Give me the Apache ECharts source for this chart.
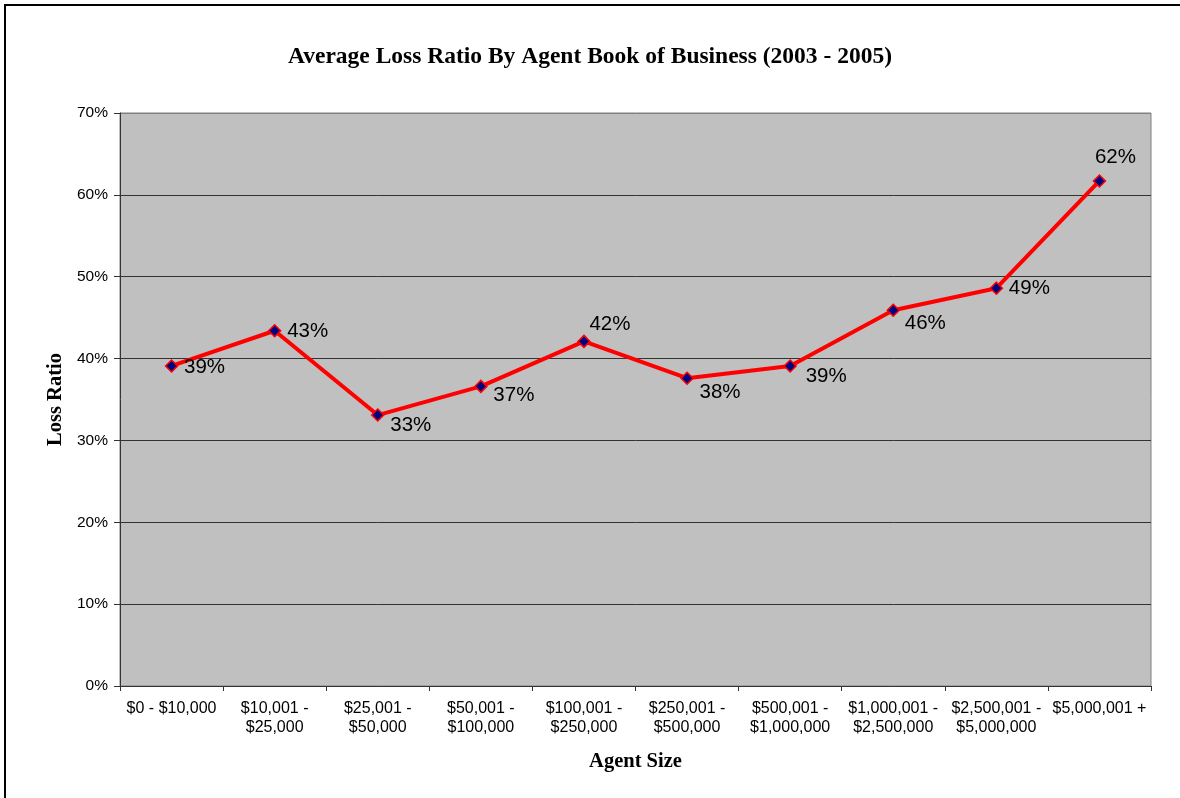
<!DOCTYPE html>
<html>
<head>
<meta charset="utf-8">
<script src="https://cdn.jsdelivr.net/npm/echarts@6/dist/echarts.min.js"></script>
<style>
html,body{margin:0;padding:0;background:#fff;}
#wrap{position:relative;width:1180px;height:798px;}
#chart{position:absolute;left:0;top:0;width:1180px;height:798px;}
#frame{position:absolute;left:4px;top:4px;right:0;bottom:0;border-left:2px solid #000;border-top:2px solid #000;pointer-events:none;}
</style>
</head>
<body>
<div id="wrap"><div id="chart"></div><div id="frame"></div></div>
<script>
const categories = ['$0 - $10,000', '$10,001 -\n$25,000', '$25,001 -\n$50,000', '$50,001 -\n$100,000', '$100,001 -\n$250,000', '$250,001 -\n$500,000', '$500,001 -\n$1,000,000', '$1,000,001 -\n$2,500,000', '$2,500,001 -\n$5,000,000', '$5,000,001 +'];
const lossRatio = [0.391, 0.434, 0.331, 0.366, 0.421, 0.376, 0.391, 0.459, 0.486, 0.617];
const labelTexts = ['39%', '43%', '33%', '37%', '42%', '38%', '39%', '46%', '49%', '62%'];
const labelOffsets = [[33, 1], [33, 1], [33, 10], [33, 9], [26, -17], [33, 14], [36, 10], [32, 13], [33, 0], [16, -24]];
const yTicks = [0, 0.1, 0.2, 0.3, 0.4, 0.5, 0.6, 0.7];

const chart = echarts.init(document.getElementById('chart'), null, {renderer: 'canvas'});
const data = lossRatio.map((v, i) => ({
  value: v,
  label: {offset: labelOffsets[i], formatter: labelTexts[i]}
}));
chart.setOption({
  animation: false,
  backgroundColor: '#fff',
  title: {
    text: 'Average Loss Ratio By Agent Book of Business (2003 - 2005)',
    left: 'center', top: 40,
    textStyle: {fontFamily: 'Liberation Serif', fontWeight: 'bold', fontSize: 23.5, color: '#000'}
  },
  grid: {left: 120, top: 113, width: 1031, height: 573, show: true, backgroundColor: '#c0c0c0', borderColor: '#808080', borderWidth: 1},
  xAxis: {
    type: 'category',
    data: categories,
    boundaryGap: true,
    name: 'Agent Size',
    nameLocation: 'middle',
    nameGap: 65,
    nameTextStyle: {fontFamily: 'Liberation Serif', fontWeight: 'bold', fontSize: 20.5, color: '#000'},
    axisLine: {lineStyle: {color: '#333', width: 1}},
    axisTick: {show: true, length: 5, lineStyle: {color: '#333'}},
    axisLabel: {interval: 0, margin: 13, fontFamily: 'Liberation Sans', fontSize: 16, lineHeight: 19, color: '#000'},
    splitLine: {show: false}
  },
  yAxis: {
    type: 'value',
    min: yTicks[0], max: yTicks[yTicks.length - 1], interval: 0.1,
    name: 'Loss Ratio',
    nameLocation: 'middle',
    nameGap: 49,
    nameTextStyle: {fontFamily: 'Liberation Serif', fontWeight: 'bold', fontSize: 20.5, color: '#000'},
    axisLine: {show: true, lineStyle: {color: '#333', width: 1}},
    axisTick: {show: true, length: 6, lineStyle: {color: '#333'}},
    axisLabel: {margin: 12, fontFamily: 'Liberation Sans', fontSize: 15.5, color: '#000', formatter: v => Math.round(v * 100) + '%'},
    splitLine: {show: true, lineStyle: {color: ['#333', '#333', '#333', '#333', '#333', '#333', '#333', '#808080'], width: 1}}
  },
  series: [{
    type: 'line',
    data: data,
    lineStyle: {color: '#ff0000', width: 4},
    symbol: 'diamond',
    symbolSize: 12,
    itemStyle: {color: '#000080', borderColor: '#ff0000', borderWidth: 1.5},
    label: {show: true, position: 'inside', align: 'center', verticalAlign: 'middle', fontFamily: 'Liberation Sans', fontSize: 20.5, color: '#000'},
    z: 5
  }]
});
</script>
</body>
</html>
